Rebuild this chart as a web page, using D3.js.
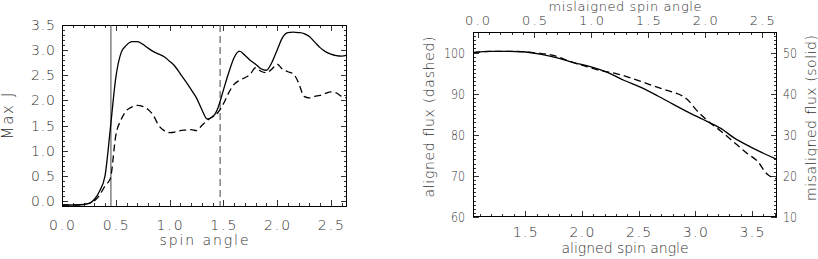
<!DOCTYPE html>
<html>
<head>
<meta charset="utf-8">
<script src="https://cdn.jsdelivr.net/npm/d3@7"></script>
<style>
  body { margin: 0; background: #fff; }
  svg text { font-family: "DejaVu Sans", sans-serif; font-weight: 200; fill: #333; font-size: 14px; }
</style>
</head>
<body>
<div id="chart"></div>
<script>
// left panel: Max J vs spin angle
const spinAngle = [0, 0.1, 0.2, 0.25, 0.3, 0.35, 0.4, 0.45, 0.5, 0.55, 0.6, 0.65, 0.7, 0.75, 0.8, 0.85, 0.9, 0.95,
  1.0, 1.05, 1.1, 1.15, 1.2, 1.25, 1.3, 1.35, 1.4, 1.45, 1.5, 1.55, 1.6, 1.65, 1.7, 1.75, 1.8, 1.85, 1.9, 1.95,
  2.0, 2.05, 2.1, 2.15, 2.2, 2.25, 2.3, 2.35, 2.4, 2.45, 2.5, 2.55, 2.6, 2.65];
const maxJSolid = [-0.08, -0.08, -0.07, -0.05, 0.03, 0.2, 0.5, 1.45, 2.45, 2.95, 3.1, 3.17, 3.17, 3.12, 3.04, 2.97, 2.92, 2.87,
  2.78, 2.68, 2.53, 2.38, 2.22, 2.05, 1.82, 1.63, 1.67, 1.85, 2.2, 2.55, 2.85, 2.98, 2.9, 2.8, 2.72, 2.63, 2.6, 2.75,
  3.0, 3.25, 3.35, 3.36, 3.35, 3.33, 3.27, 3.16, 3.05, 2.97, 2.92, 2.89, 2.88, 2.9];
const maxJDashed = [-0.08, -0.08, -0.07, -0.05, 0.0, 0.12, 0.3, 0.45, 1.3, 1.62, 1.8, 1.87, 1.9, 1.88, 1.82, 1.7, 1.5, 1.4,
  1.36, 1.37, 1.4, 1.41, 1.42, 1.4, 1.5, 1.6, 1.68, 1.76, 1.93, 2.15, 2.32, 2.4, 2.45, 2.52, 2.65, 2.58, 2.55, 2.62,
  2.72, 2.62, 2.57, 2.53, 2.35, 2.08, 2.05, 2.08, 2.1, 2.14, 2.17, 2.15, 2.08, 2.05];
const markSolid = 0.455;
const markDashed = 1.47;

// right panel: aligned (dashed) and misaligned (solid) flux
const alignedAngle = [1.04, 1.2, 1.4, 1.6, 1.75, 1.9, 2.05, 2.15, 2.3, 2.4, 2.5, 2.63, 2.75, 2.81, 2.9, 2.95,
  3.0, 3.1, 3.22, 3.34, 3.46, 3.55, 3.63, 3.71];
const alignedFlux = [100.0, 100.3, 100.3, 99.9, 99.3, 97.8, 96.5, 95.7, 94.9, 94.1, 93.2, 91.9, 90.8, 90.3, 89.2, 88.0,
  86.3, 83.6, 81.0, 78.2, 75.4, 73.5, 70.5, 69.3];
const misAngle = [-0.04, 0.11, 0.26, 0.4, 0.55, 0.7, 0.85, 0.99, 1.14, 1.29, 1.43, 1.58, 1.72, 1.87, 1.96, 2.02,
  2.14, 2.25, 2.4, 2.63];
const misFlux = [50.0, 50.3, 50.3, 50.2, 49.6, 48.7, 47.5, 46.6, 45.2, 43.2, 41.6, 39.5, 37.4, 35.2, 34.0, 33.2,
  31.5, 29.3, 27.0, 24.0];

const leftXTicks = [0, 0.5, 1.0, 1.5, 2.0, 2.5];
const leftYTicks = [0, 0.5, 1.0, 1.5, 2.0, 2.5, 3.0, 3.5];
const alignedTicks = [1.5, 2.0, 2.5, 3.0, 3.5];
const misTicks = [0, 0.5, 1.0, 1.5, 2.0, 2.5];
const alignedFluxTicks = [60, 70, 80, 90, 100];
const misFluxTicks = [10, 20, 30, 40, 50];

const svg = d3.select("#chart").append("svg")
    .attr("width", 818)
    .attr("height", 259);

function range(a, b, step) {
    const out = [];
    for (let i = 0; a + i * step <= b + 1e-9; i++) out.push(+(a + i * step).toFixed(4));
    return out;
}

// IDL style inward ticks on one edge
function ticks(g, scale, values, edge, pos, len) {
    values.forEach(v => {
        const p = Math.round(scale(v)) + 0.5;
        let x1, y1, x2, y2;
        if (edge === "bottom") { x1 = x2 = p; y1 = pos; y2 = pos - len; }
        if (edge === "top") { x1 = x2 = p; y1 = pos; y2 = pos + len; }
        if (edge === "left") { y1 = y2 = p; x1 = pos; x2 = pos + len; }
        if (edge === "right") { y1 = y2 = p; x1 = pos; x2 = pos - len; }
        g.append("line")
            .attr("x1", x1).attr("y1", y1).attr("x2", x2).attr("y2", y2)
            .attr("stroke", "#333").attr("stroke-width", 1);
    });
}

const numLen = s => s.length === 3 && s.includes(".") ? 25 : s.length * 7;

// ---- left panel ----
const x1 = d3.scaleLinear().domain([0, 2.65]).range([62, 347]);
const y1 = d3.scaleLinear().domain([-0.1, 3.5]).range([206, 25]);
const gL = svg.append("g");

const xMinor1 = range(0, 2.6, 0.1);
const yMinor1 = range(-0.1, 3.5, 0.1);
ticks(gL, x1, xMinor1, "bottom", 206, 3);
ticks(gL, x1, leftXTicks, "bottom", 206, 6);
ticks(gL, x1, xMinor1, "top", 25, 3);
ticks(gL, x1, leftXTicks, "top", 25, 6);
ticks(gL, y1, yMinor1, "left", 62, 3);
ticks(gL, y1, leftYTicks, "left", 62, 6);
ticks(gL, y1, yMinor1, "right", 347, 3);
ticks(gL, y1, leftYTicks, "right", 347, 6);

gL.append("rect")
    .attr("x", 62.5).attr("y", 25.5)
    .attr("width", 284).attr("height", 181)
    .attr("fill", "none").attr("stroke", "#000");

gL.selectAll(".xl").data(leftXTicks).enter().append("text")
    .attr("x", d => x1(d)).attr("y", 230)
    .attr("text-anchor", "middle")
    .attr("textLength", 26).attr("lengthAdjust", "spacing")
    .text(d => d.toFixed(1));

gL.selectAll(".yl").data(leftYTicks).enter().append("text")
    .attr("x", 55).attr("y", d => y1(d) + 5)
    .attr("text-anchor", "end")
    .attr("textLength", 24).attr("lengthAdjust", "spacing")
    .text(d => d.toFixed(1));

gL.append("text")
    .attr("x", 204).attr("y", 245)
    .attr("text-anchor", "middle")
    .attr("textLength", 89).attr("lengthAdjust", "spacing")
    .text("spin angle");

gL.append("text")
    .attr("transform", "translate(13,116) rotate(-90)")
    .attr("text-anchor", "middle")
    .style("font-size", "15px")
    .attr("textLength", 47).attr("lengthAdjust", "spacing")
    .text("Max J");

gL.append("line")
    .attr("x1", x1(markSolid)).attr("x2", x1(markSolid))
    .attr("y1", 25).attr("y2", 206)
    .attr("stroke", "#444").attr("stroke-width", 1);
gL.append("line")
    .attr("x1", x1(markDashed)).attr("x2", x1(markDashed))
    .attr("y1", 25).attr("y2", 206)
    .attr("stroke", "#444").attr("stroke-width", 1)
    .attr("stroke-dasharray", "7,4");

const lineL = d3.line()
    .x(d => x1(d[0]))
    .y(d => y1(d[1]))
    .curve(d3.curveMonotoneX);

gL.append("path")
    .attr("d", lineL(d3.zip(spinAngle, maxJSolid)))
    .attr("fill", "none").attr("stroke", "#000").attr("stroke-width", 1.3);
gL.append("path")
    .attr("d", lineL(d3.zip(spinAngle, maxJDashed)))
    .attr("fill", "none").attr("stroke", "#000").attr("stroke-width", 1.3)
    .attr("stroke-dasharray", "7,4");

// ---- right panel ----
const xB = d3.scaleLinear().domain([1.04, 3.72]).range([473, 777]);
const xT = d3.scaleLinear().domain([-0.04, 2.63]).range([473, 777]);
const yLft = d3.scaleLinear().domain([60, 105]).range([217, 32]);
const yRgt = d3.scaleLinear().domain([10, 55]).range([217, 32]);
const gR = svg.append("g");

ticks(gR, xB, range(1.1, 3.7, 0.1), "bottom", 217, 3);
ticks(gR, xB, alignedTicks, "bottom", 217, 6);
ticks(gR, xT, range(0, 2.6, 0.1), "top", 32, 3);
ticks(gR, xT, misTicks, "top", 32, 6);
ticks(gR, yLft, range(60, 105, 1), "left", 473, 3);
ticks(gR, yLft, alignedFluxTicks, "left", 473, 6);
ticks(gR, yRgt, range(10, 55, 1), "right", 777, 3);
ticks(gR, yRgt, misFluxTicks, "right", 777, 6);

gR.append("rect")
    .attr("x", 473.5).attr("y", 32.5)
    .attr("width", 303).attr("height", 184)
    .attr("fill", "none").attr("stroke", "#000");

gR.selectAll(".xb").data(alignedTicks).enter().append("text")
    .attr("x", d => xB(d)).attr("y", 237)
    .attr("text-anchor", "middle")
    .attr("textLength", 25).attr("lengthAdjust", "spacing")
    .text(d => d.toFixed(1));

gR.selectAll(".xt").data(misTicks).enter().append("text")
    .attr("x", d => xT(d)).attr("y", 25)
    .attr("text-anchor", "middle")
    .style("font-size", "13px")
    .attr("textLength", 25).attr("lengthAdjust", "spacing")
    .text(d => d.toFixed(1));

gR.selectAll(".yl").data(alignedFluxTicks).enter().append("text")
    .attr("x", 465).attr("y", d => yLft(d) + 5)
    .attr("text-anchor", "end")
    .attr("textLength", d => numLen(String(d))).attr("lengthAdjust", "spacingAndGlyphs")
    .text(d => d);

gR.selectAll(".yr").data(misFluxTicks).enter().append("text")
    .attr("x", 783).attr("y", d => yRgt(d) + 5)
    .attr("text-anchor", "start")
    .attr("textLength", d => numLen(String(d))).attr("lengthAdjust", "spacingAndGlyphs")
    .text(d => d);

gR.append("text")
    .attr("x", 625).attr("y", 10.5)
    .attr("text-anchor", "middle")
    .style("font-size", "13px")
    .attr("textLength", 153).attr("lengthAdjust", "spacing")
    .text("mislaigned spin angle");

gR.append("text")
    .attr("x", 625).attr("y", 253)
    .attr("text-anchor", "middle")
    .attr("textLength", 127).attr("lengthAdjust", "spacing")
    .text("aligned spin angle");

gR.append("text")
    .attr("transform", "translate(434,117) rotate(-90)")
    .attr("text-anchor", "middle")
    .attr("textLength", 161).attr("lengthAdjust", "spacing")
    .text("aligned flux (dashed)");

gR.append("text")
    .attr("transform", "translate(816,118) rotate(-90)")
    .attr("text-anchor", "middle")
    .attr("textLength", 166).attr("lengthAdjust", "spacing")
    .text("misaligned flux (solid)");

gR.append("path")
    .attr("d", d3.line().x(d => xB(d[0])).y(d => yLft(d[1])).curve(d3.curveMonotoneX)(d3.zip(alignedAngle, alignedFlux)))
    .attr("fill", "none").attr("stroke", "#000").attr("stroke-width", 1.3)
    .attr("stroke-dasharray", "7,4");
gR.append("path")
    .attr("d", d3.line().x(d => xT(d[0])).y(d => yRgt(d[1])).curve(d3.curveMonotoneX)(d3.zip(misAngle, misFlux)))
    .attr("fill", "none").attr("stroke", "#000").attr("stroke-width", 1.3);
</script>
</body>
</html>
